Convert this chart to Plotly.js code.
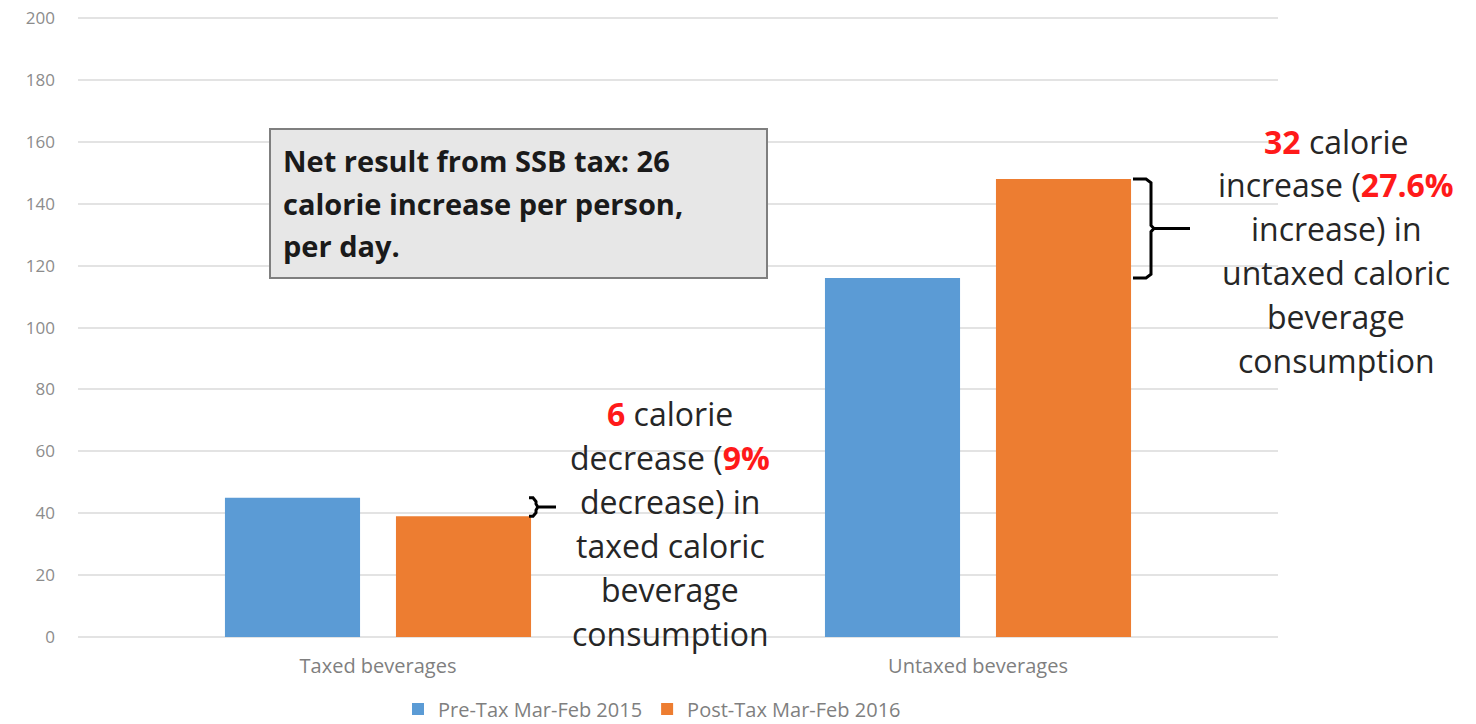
<!DOCTYPE html>
<html>
<head>
<meta charset="utf-8">
<script src="https://cdn.plot.ly/plotly-3.0.1.min.js"></script>
<style>
  html, body { margin: 0; padding: 0; background: #ffffff; }
  #chart { width: 1476px; height: 724px; }
</style>
</head>
<body>
<div id="chart"></div>
<script>
// Daily calories from beverages, per person
const categories = ['Taxed beverages', 'Untaxed beverages'];
const seriesNames = ['Pre-Tax Mar-Feb 2015', 'Post-Tax Mar-Feb 2016'];
const preTax = [45, 116];
const postTax = [39, 148];
const yTicks = [0, 20, 40, 60, 80, 100, 120, 140, 160, 180, 200];

const taxedNote = ['<b style="color:#ff1a1a">6</b> calorie',
                   'decrease (<b style="color:#ff1a1a">9%</b>',
                   'decrease) in',
                   'taxed caloric',
                   'beverage',
                   'consumption'];
const untaxedNote = ['<b style="color:#ff1a1a">32</b> calorie',
                     'increase (<b style="color:#ff1a1a">27.6%</b>',
                     'increase) in',
                     'untaxed caloric',
                     'beverage',
                     'consumption'];
const boxNote = ['Net result from SSB tax: 26',
                 'calorie increase per person,',
                 'per day.'];

const W = 1476, H = 724;
const M = {l: 78, r: 198, t: 15, b: 87, autoexpand: false};
const plotW = W - M.l - M.r, plotH = H - M.t - M.b;
// pixel helpers for placing notes
const px = x => (x - M.l) / plotW;
const py = y => (H - M.b - y) / plotH;

const FONT = '"Open Sans", "Noto Sans", sans-serif';
const BLUE = '#5b9bd5', ORANGE = '#ed7d31';

const traces = [
  {type: 'bar', name: seriesNames[0], x: categories, y: preTax,
   marker: {color: BLUE}, hoverinfo: 'y'},
  {type: 'bar', name: seriesNames[1], x: categories, y: postTax,
   marker: {color: ORANGE}, hoverinfo: 'y'}
];

const annotations = [];
const noteFont = {family: FONT, size: 32, color: '#262626'};
taxedNote.forEach((t, i) => annotations.push({
  xref: 'paper', yref: 'paper', x: px(670), y: py(413 + i * 44),
  text: t, showarrow: false, xanchor: 'center', yanchor: 'middle', font: noteFont
}));
untaxedNote.forEach((t, i) => annotations.push({
  xref: 'paper', yref: 'paper', x: px(1336), y: py(141 + i * 43.8),
  text: t, showarrow: false, xanchor: 'center', yanchor: 'middle', font: noteFont
}));
boxNote.forEach((t, i) => annotations.push({
  xref: 'paper', yref: 'paper', x: px(281), y: py(160 + i * 43),
  text: '<b>' + t + '</b>', showarrow: false, xanchor: 'left', yanchor: 'middle',
  font: {family: FONT, size: 29, color: '#1a1a1a'}
}));

// curly brackets marking the change between the two periods
function bracket(xL, xV, xT, top, bottom, r) {
  const mid = (top + bottom) / 2;
  return {
    type: 'path', xref: 'paper', yref: 'y',
    path: `M ${px(xL)},${top} L ${px(xV - r)},${top} L ${px(xV)},${top - 1.2} L ${px(xV)},${mid + 1} ` +
          `L ${px(xV + r * 0.6)},${mid} L ${px(xT)},${mid} M ${px(xV + r * 0.6)},${mid} L ${px(xV)},${mid - 1} ` +
          `L ${px(xV)},${bottom + 1.2} L ${px(xV - r)},${bottom} L ${px(xL)},${bottom}`,
    line: {color: '#000000', width: 3}
  };
}

const shapes = [
  {type: 'rect', xref: 'paper', yref: 'paper', x0: px(270), x1: px(767), y0: py(278), y1: py(129),
   fillcolor: '#e7e7e7', line: {color: '#7f7f7f', width: 2}, layer: 'above'},
  bracket(1133, 1151, 1190, postTax[1], preTax[1], 5),
  bracket(529, 536, 556, preTax[0], postTax[0], 3)
];

const layout = {
  width: W, height: H,
  margin: M,
  paper_bgcolor: '#ffffff', plot_bgcolor: '#ffffff',
  barmode: 'group', bargap: 0.43, bargroupgap: 0.21,
  font: {family: FONT, color: '#7f7f7f'},
  showlegend: true,
  legend: {orientation: 'h', xref: 'paper', yref: 'paper', x: px(652), y: py(709),
           xanchor: 'center', yanchor: 'middle', font: {family: FONT, size: 20, color: '#7f7f7f'},
           itemwidth: 30, traceorder: 'normal', borderwidth: 0},
  xaxis: {type: 'category', showgrid: false, zeroline: false, showline: false, ticks: '',
          tickfont: {family: FONT, size: 20, color: '#7f7f7f'}, ticklabelstandoff: 15},
  yaxis: {range: [0, 201], tickvals: yTicks, showgrid: true, gridcolor: '#e3e3e3', gridwidth: 2,
          zeroline: true, zerolinecolor: '#e3e3e3', zerolinewidth: 2, showline: false, ticks: '',
          tickfont: {family: FONT, size: 17, color: '#8c8c8c'}, ticklabelstandoff: 22},
  annotations: annotations,
  shapes: shapes
};

Plotly.newPlot('chart', traces, layout, {displayModeBar: false, staticPlot: true});
</script>
</body>
</html>
